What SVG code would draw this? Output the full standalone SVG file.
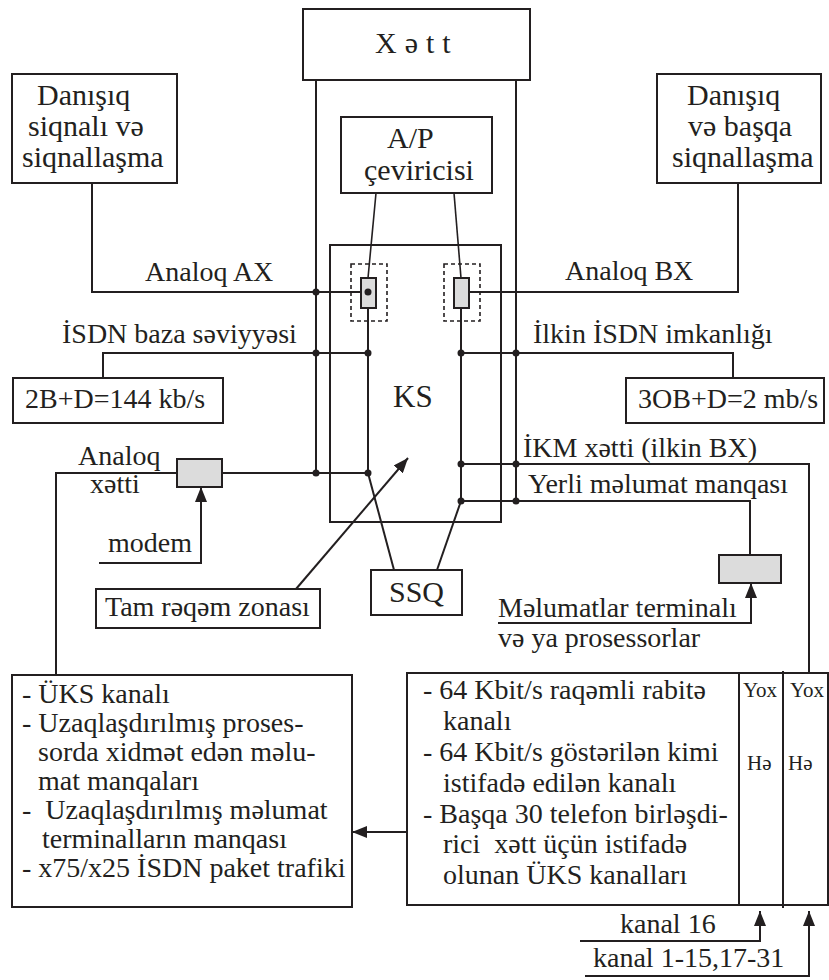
<svg xmlns="http://www.w3.org/2000/svg" width="829" height="980" viewBox="0 0 829 980" font-family="Liberation Serif, DejaVu Serif, serif">
  <style>
    .box { fill: #ffffff; stroke: #231f20; stroke-width: 2; }
    .grey { fill: #dcdcdc; stroke: #231f20; stroke-width: 2; }
    .dash { fill: none; stroke: #231f20; stroke-width: 1.6; stroke-dasharray: 4 3; }
    .ln { fill: none; stroke: #231f20; stroke-width: 2; }
    .thin { fill: none; stroke: #231f20; stroke-width: 1.6; }
    .dot { fill: #231f20; }
    text { font-family: 'Liberation Serif', 'DejaVu Serif', serif; font-size: 28px; fill: #231f20; white-space: pre; }
    .big { font-size: 30px; }
    .large { font-size: 31px; }
    .small { font-size: 21px; }
  </style>
  <defs>
    <marker id="arrow" viewBox="0 0 15 12" refX="15" refY="6" markerWidth="15" markerHeight="12" markerUnits="userSpaceOnUse" orient="auto">
      <path d="M0,0 L15,6 L0,12 z" fill="#231f20"/>
    </marker>
  </defs>

  <!-- connectors -->
  <g id="connectors">
    <!-- line trunks from the Xətt block -->
    <line class="ln" x1="316" y1="80" x2="316" y2="473"/>
    <line class="ln" x1="516" y1="80" x2="516" y2="501"/>
    <!-- A/P converter outputs -->
    <line class="thin" x1="376" y1="193" x2="368" y2="278"/>
    <line class="thin" x1="454" y1="193" x2="461" y2="278"/>
    <!-- internal switching paths -->
    <line class="ln" x1="368" y1="308" x2="368" y2="473"/>
    <line class="ln" x1="461" y1="308" x2="461" y2="501"/>
    <!-- analogue subscriber lines -->
    <polyline class="ln" points="92,183 92,292 368,292"/>
    <polyline class="ln" points="469,292 738,292 738,183"/>
    <!-- ISDN access -->
    <polyline class="ln" points="103,378 103,353 368,353"/>
    <polyline class="ln" points="461,353 733,353 733,378"/>
    <!-- analogue line with modem -->
    <polyline class="ln" points="56,675 56,473 177,473"/>
    <line class="ln" x1="222" y1="473" x2="368" y2="473"/>
    <polyline class="ln" points="99,563 201,563 201,487" marker-end="url(#arrow)"/>
    <!-- PCM line and local data loop -->
    <polyline class="ln" points="461,464 809,464 809,673"/>
    <polyline class="ln" points="461,501 750,501 750,555"/>
    <polyline class="ln" points="498,623 751,623 751,583" marker-end="url(#arrow)"/>
    <!-- signalling unit -->
    <line class="ln" x1="394" y1="570" x2="368" y2="473"/>
    <line class="ln" x1="437" y1="570" x2="461" y2="501"/>
    <!-- digital zone pointer -->
    <line class="ln" x1="296" y1="589" x2="408" y2="458" marker-end="url(#arrow)"/>
    <!-- channel routing to the service list -->
    <polyline class="ln" points="728,782 728,832 352,832" marker-end="url(#arrow)"/>
    <polyline class="ln" points="580,941 760,941 760,911" marker-end="url(#arrow)"/>
    <polyline class="ln" points="585,976 809,976 809,911" marker-end="url(#arrow)"/>
    <!-- junction dots -->
    <circle class="dot" cx="316" cy="292" r="3.5"/>
    <circle class="dot" cx="316" cy="353" r="3.5"/>
    <circle class="dot" cx="368" cy="353" r="3.5"/>
    <circle class="dot" cx="461" cy="353" r="3.5"/>
    <circle class="dot" cx="516" cy="353" r="3.5"/>
    <circle class="dot" cx="316" cy="473" r="3.5"/>
    <circle class="dot" cx="368" cy="473" r="3.5"/>
    <circle class="dot" cx="461" cy="464" r="3.5"/>
    <circle class="dot" cx="516" cy="464" r="3.5"/>
    <circle class="dot" cx="461" cy="501" r="3.5"/>
    <circle class="dot" cx="516" cy="501" r="3.5"/>
  </g>

  <g id="xett">
    <rect class="box" x="303" y="9" width="227" height="71"/>
    <text class="big" x="375" y="53" style="letter-spacing:8px">Xətt</text>
  </g>

  <g id="ap-converter">
    <rect class="box" x="341" y="117" width="151" height="76"/>
    <text class="big" x="387" y="148">A/P</text>
    <text class="big" x="364" y="180">çeviricisi</text>
  </g>

  <g id="speech-left">
    <rect class="box" x="12" y="74" width="165" height="109"/>
    <text class="big" x="37" y="105">Danışıq</text>
    <text class="big" x="28" y="136">siqnalı və</text>
    <text class="big" x="22" y="167">siqnallaşma</text>
  </g>

  <g id="speech-right">
    <rect class="box" x="657" y="74" width="164" height="109"/>
    <text class="big" x="687" y="105">Danışıq</text>
    <text class="big" x="688" y="136">və başqa</text>
    <text class="big" x="672" y="167">siqnallaşma</text>
  </g>

  <g id="ks">
    <rect class="box" x="330" y="245" width="171" height="277" style="fill:none"/>
    <text class="large" x="393" y="407">KS</text>
  </g>

  <g id="port-a">
    <rect class="dash" x="351" y="264" width="36" height="57"/>
    <rect class="grey" x="361" y="278" width="15" height="30"/>
    <circle class="dot" cx="368" cy="292" r="3.5"/>
  </g>

  <g id="port-b">
    <rect class="dash" x="444" y="264" width="36" height="57"/>
    <rect class="grey" x="454" y="278" width="15" height="30"/>
  </g>

  <g id="labels-lines">
    <text x="145" y="281">Analoq AX</text>
    <text x="565" y="280">Analoq BX</text>
    <text x="62" y="343">İSDN baza səviyyəsi</text>
    <text x="533" y="343">İlkin İSDN imkanlığı</text>
    <text x="78" y="465">Analoq</text>
    <text x="90" y="493">xətti</text>
    <text x="108" y="552">modem</text>
    <text x="523" y="457">İKM xətti (ilkin BX)</text>
    <text x="528" y="493">Yerli məlumat manqası</text>
    <text x="498" y="617">Məlumatlar terminalı</text>
    <text x="498" y="647">və ya prosessorlar</text>
    <text x="620" y="933">kanal 16</text>
    <text x="593" y="967">kanal 1-15,17-31</text>
  </g>

  <g id="basic-rate">
    <rect class="box" x="13" y="378" width="210" height="45"/>
    <text x="25" y="408">2B+D=144 kb/s</text>
  </g>

  <g id="primary-rate">
    <rect class="box" x="626" y="378" width="198" height="45"/>
    <text x="638" y="408">3OB+D=2 mb/s</text>
  </g>

  <g id="modem">
    <rect class="grey" x="177" y="459" width="45" height="28"/>
  </g>

  <g id="data-terminal">
    <rect class="grey" x="719" y="555" width="62" height="28"/>
  </g>

  <g id="digital-zone">
    <rect class="box" x="96" y="589" width="224" height="39"/>
    <text x="105" y="616">Tam rəqəm zonası</text>
  </g>

  <g id="ssq">
    <rect class="box" x="371" y="570" width="91" height="45"/>
    <text class="big" x="389" y="602">SSQ</text>
  </g>

  <g id="service-list">
    <rect class="box" x="12" y="675" width="340" height="232"/>
    <text x="22" y="703">- ÜKS kanalı</text>
    <text x="22" y="732">- Uzaqlaşdırılmış proses-</text>
    <text x="38" y="761">sorda xidmət edən məlu-</text>
    <text x="38" y="790">mat manqaları</text>
    <text x="22" y="819">-  Uzaqlaşdırılmış məlumat</text>
    <text x="42" y="848">terminalların manqası</text>
    <text x="22" y="877">- x75/x25 İSDN paket trafiki</text>
  </g>

  <g id="channel-table">
    <rect class="box" x="407" y="673" width="421" height="232"/>
    <line class="ln" x1="739" y1="673" x2="739" y2="905"/>
    <line class="ln" x1="783" y1="671" x2="783" y2="908"/>
    <text x="423" y="699">- 64 Kbit/s raqəmli rabitə</text>
    <text x="443" y="730">kanalı</text>
    <text x="423" y="761">- 64 Kbit/s göstərilən kimi</text>
    <text x="443" y="792">istifadə edilən kanalı</text>
    <text x="423" y="823">- Başqa 30 telefon birləşdi-</text>
    <text x="443" y="853">rici  xətt üçün istifadə</text>
    <text x="443" y="884">olunan ÜKS kanalları</text>
    <text class="small" x="743" y="697">Yox</text>
    <text class="small" x="790" y="697">Yox</text>
    <text class="small" x="747" y="770">Hə</text>
    <text class="small" x="788" y="770">Hə</text>
  </g>
</svg>
